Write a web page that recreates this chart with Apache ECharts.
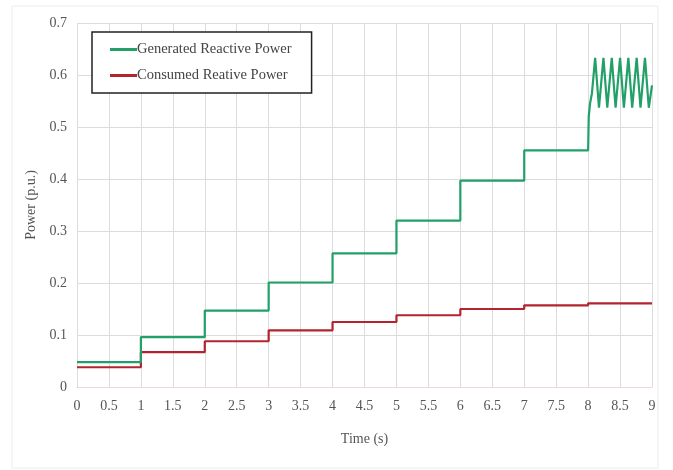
<!DOCTYPE html>
<html>
<head>
<meta charset="utf-8">
<script src="https://cdn.jsdelivr.net/npm/echarts@6/dist/echarts.min.js"></script>
<style>
  html, body { margin: 0; padding: 0; background: #fff; }
  #chart { width: 673px; height: 470px; }
</style>
</head>
<body>
<div id="chart"></div>
<script>
// Step boundaries (s) and levels (p.u.) for each reactive power trace
const stepTimes = [0, 1, 2, 3, 4, 5, 6, 7, 8, 9];
const generatedLevels = [0.048, 0.096, 0.147, 0.201, 0.257, 0.320, 0.397, 0.455];
const consumedLevels = [0.038, 0.067, 0.088, 0.109, 0.125, 0.138, 0.150, 0.157, 0.161];

// Oscillating part of the generated power after t = 8 s
const oscTimes = [8.0, 8.01, 8.03, 8.06, 8.11, 8.17, 8.24, 8.30, 8.37, 8.43, 8.50, 8.56, 8.63, 8.69, 8.76, 8.82, 8.89, 8.95, 9.0];
const oscValues = [0.455, 0.52, 0.545, 0.565, 0.633, 0.537, 0.633, 0.537, 0.633, 0.537, 0.633, 0.537, 0.633, 0.537, 0.633, 0.537, 0.633, 0.537, 0.58];

const xTicks = ['0', '0.5', '1', '1.5', '2', '2.5', '3', '3.5', '4', '4.5', '5', '5.5', '6', '6.5', '7', '7.5', '8', '8.5', '9'];

function stairs(levels) {
  const pts = [];
  levels.forEach((v, i) => {
    pts.push([stepTimes[i], v]);
    pts.push([stepTimes[i + 1], v]);
  });
  return pts;
}

const generatedData = stairs(generatedLevels).concat(oscTimes.map((t, i) => [t, oscValues[i]]));
const consumedData = stairs(consumedLevels);

const serif = '"Liberation Serif", "DejaVu Serif", serif';
const chart = echarts.init(document.getElementById('chart'), null, { renderer: 'canvas' });

chart.setOption({
  animation: false,
  backgroundColor: '#fff',
  graphic: [{
    type: 'rect',
    shape: { x: 12, y: 6, width: 646, height: 462 },
    style: { fill: 'none', stroke: '#ececec', lineWidth: 1 },
    silent: true
  }],
  grid: { left: 77, right: 21, top: 23, bottom: 83 },
  legend: {
    orient: 'vertical',
    left: 92,
    top: 32,
    padding: [10, 20, 10, 18],
    itemGap: 11,
    itemWidth: 27,
    itemHeight: 3,
    icon: 'rect',
    borderColor: '#222',
    borderWidth: 1.5,
    backgroundColor: '#fff',
    textStyle: { fontFamily: serif, fontSize: 14.5, color: '#444', padding: [0, 0, 0, -5] },
    data: ['Generated Reactive Power', 'Consumed Reative Power']
  },
  xAxis: {
    type: 'value',
    min: 0,
    max: 9,
    interval: 0.5,
    name: 'Time (s)',
    nameLocation: 'middle',
    nameGap: 45,
    nameTextStyle: { fontFamily: serif, fontSize: 14, color: '#555' },
    axisLine: { show: true, lineStyle: { color: '#ecd8d8', width: 1 } },
    axisTick: { show: false },
    axisLabel: {
      fontFamily: serif, fontSize: 14, color: '#555', margin: 12,
      formatter: (v) => xTicks[Math.round(v * 2)]
    },
    splitLine: { show: true, lineStyle: { color: '#dcdcdc', width: 1 } }
  },
  yAxis: {
    type: 'value',
    min: 0,
    max: 0.7,
    interval: 0.1,
    name: 'Power (p.u.)',
    nameLocation: 'middle',
    nameGap: 34,
    nameTextStyle: { fontFamily: serif, fontSize: 14, color: '#555' },
    axisLine: { show: false },
    axisTick: { show: false },
    axisLabel: {
      fontFamily: serif, fontSize: 14, color: '#555', margin: 10,
      formatter: (v) => (v === 0 ? '0' : v.toFixed(1))
    },
    splitLine: { show: true, lineStyle: { color: '#dcdcdc', width: 1 } }
  },
  series: [
    {
      name: 'Generated Reactive Power',
      type: 'line',
      data: generatedData,
      showSymbol: false,
      color: '#22a068',
      lineStyle: { color: '#22a068', width: 2.2 },
      z: 3
    },
    {
      name: 'Consumed Reative Power',
      type: 'line',
      data: consumedData,
      showSymbol: false,
      color: '#b3242f',
      lineStyle: { color: '#b3242f', width: 2.2 },
      z: 2
    }
  ]
});
</script>
</body>
</html>
